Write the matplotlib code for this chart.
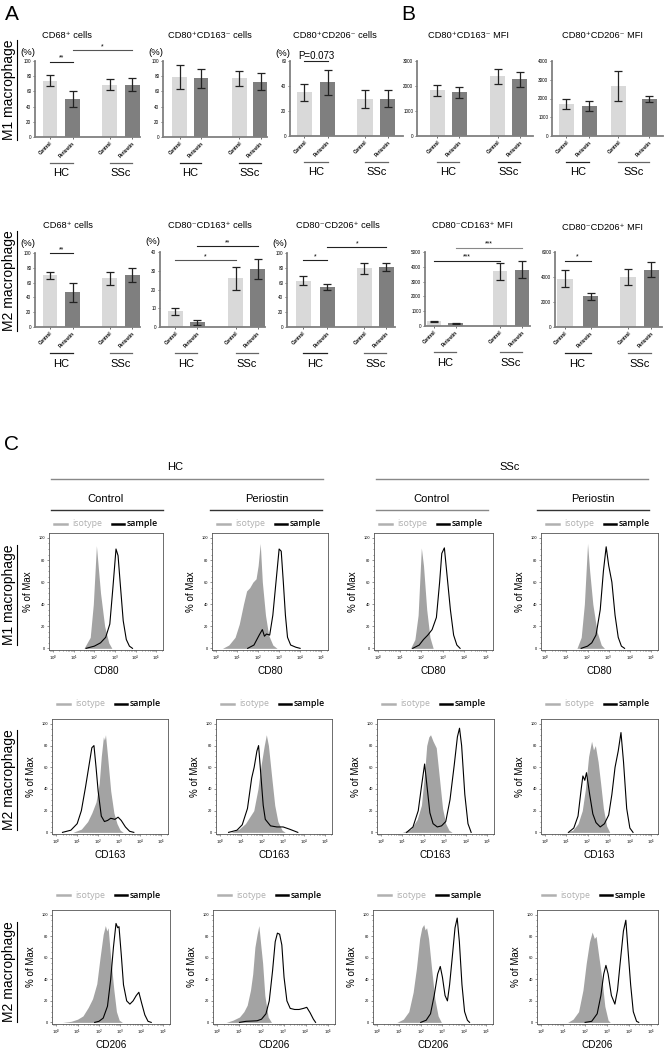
import numpy as np
import matplotlib
matplotlib.use("Agg")
import matplotlib.pyplot as plt
from matplotlib.lines import Line2D
from matplotlib.ticker import AutoMinorLocator, FixedLocator

plt.rcParams["font.family"] = ["Liberation Sans", "DejaVu Sans"]

W, H = 667, 1050

# ---------------------------------------------------------------- data
conditions = ["Control", "Periostin", "Control", "Periostin"]
groups = ["HC", "SSc"]

# A/B, M1 macrophage row: mean and error (HC ctrl, HC peri, SSc ctrl, SSc peri)
m1_cd68_mean = [74, 50, 69, 69]
m1_cd68_err = [7.5, 11, 7.5, 8.5]
m1_cd80cd163_mean = [79, 77, 77, 73]
m1_cd80cd163_err = [16, 13, 9.5, 11]
m1_cd80cd206_mean = [35, 43, 29.5, 30]
m1_cd80cd206_err = [7, 10, 7, 7]
m1_cd163_mfi_mean = [1830, 1750, 2400, 2270]
m1_cd163_mfi_err = [210, 210, 300, 300]
m1_cd206_mfi_mean = [1690, 1620, 2660, 1970]
m1_cd206_mfi_err = [275, 265, 800, 180]

# A/B, M2 macrophage row
m2_cd68_mean = [70, 47, 66, 70]
m2_cd68_err = [5, 13, 9, 9.5]
m2_cd80cd163_mean = [8.3, 2.5, 26, 31]
m2_cd80cd163_err = [1.8, 1.2, 6, 5.3]
m2_cd80cd206_mean = [62.5, 53.5, 79.5, 81.5]
m2_cd80cd206_err = [6, 4, 7.5, 5.5]
m2_cd163_mfi_mean = [320, 190, 3700, 3800]
m2_cd163_mfi_err = [50, 40, 560, 580]
m2_cd206_mfi_mean = [3870, 2450, 4000, 4590]
m2_cd206_mfi_err = [690, 310, 640, 590]

# C, histograms: (log10 intensity, % of Max)
iso_hc_ctrl_cd80 = [(1.5, 0), (1.8, 10), (1.95, 40), (2.1, 93), (2.3, 50), (2.5, 20), (2.7, 5), (2.85, 0)]
smp_hc_ctrl_cd80 = [(1.6, 0), (2.0, 2), (2.3, 5), (2.55, 10), (2.75, 22), (2.9, 55), (3.05, 90),
                    (3.15, 84), (3.25, 60), (3.4, 25), (3.55, 8), (3.7, 2), (3.85, 0)]
iso_hc_peri_cd80 = [(0.3, 0), (0.6, 3), (0.9, 10), (1.1, 22), (1.3, 40), (1.45, 52), (1.6, 55), (1.75, 60),
                    (1.9, 63), (2.0, 75), (2.1, 95), (2.2, 60), (2.35, 30), (2.5, 12), (2.7, 3), (2.9, 0)]
smp_hc_peri_cd80 = [(1.5, 0), (1.8, 3), (2.05, 12), (2.2, 17), (2.3, 11), (2.4, 13), (2.55, 12), (2.7, 30),
                    (2.85, 60), (3.0, 90), (3.1, 88), (3.2, 60), (3.3, 30), (3.4, 10), (3.55, 3), (3.8, 1), (4.0, 0)]
iso_ssc_ctrl_cd80 = [(1.5, 0), (1.7, 8), (1.85, 30), (2.0, 91), (2.1, 75), (2.25, 35), (2.4, 10), (2.55, 0)]
smp_ssc_ctrl_cd80 = [(1.6, 0), (1.9, 3), (2.1, 8), (2.3, 12), (2.5, 17), (2.7, 28), (2.85, 60), (2.95, 86),
                     (3.07, 91), (3.2, 65), (3.35, 35), (3.5, 12), (3.65, 3), (3.8, 0)]
iso_ssc_peri_cd80 = [(1.5, 0), (1.7, 10), (1.85, 40), (2.0, 95), (2.1, 70), (2.25, 40), (2.45, 15), (2.65, 3), (2.8, 0)]
smp_ssc_peri_cd80 = [(1.7, 0), (2.0, 2), (2.2, 5), (2.4, 12), (2.6, 35), (2.75, 70), (2.88, 92), (3.0, 75),
                     (3.15, 60), (3.3, 30), (3.45, 10), (3.6, 2), (3.75, 0)]

iso_hc_ctrl_cd163 = [(0.8, 0), (1.2, 3), (1.5, 10), (1.7, 18), (1.9, 28), (2.05, 45), (2.15, 70), (2.25, 88),
                     (2.3, 85), (2.35, 90), (2.45, 70), (2.6, 38), (2.75, 18), (2.9, 8), (3.05, 2), (3.2, 0)]
smp_hc_ctrl_cd163 = [(0.3, 0), (0.7, 2), (1.0, 8), (1.2, 20), (1.4, 42), (1.55, 60), (1.7, 78), (1.8, 80),
                     (1.9, 60), (2.0, 38), (2.15, 15), (2.3, 10), (2.45, 11), (2.6, 13), (2.8, 12), (2.95, 14),
                     (3.1, 11), (3.3, 5), (3.5, 1), (3.7, 0)]
iso_hc_peri_cd163 = [(0.5, 0), (0.9, 3), (1.2, 8), (1.4, 14), (1.6, 20), (1.8, 40), (1.95, 62), (2.1, 80),
                     (2.2, 90), (2.3, 80), (2.45, 52), (2.6, 25), (2.75, 10), (2.95, 2), (3.1, 0)]
smp_hc_peri_cd163 = [(0.4, 0), (0.8, 2), (1.05, 7), (1.3, 22), (1.5, 50), (1.62, 60), (1.75, 75), (1.83, 80),
                     (1.95, 50), (2.05, 25), (2.15, 12), (2.4, 6), (2.7, 5), (3.0, 5), (3.3, 3), (3.5, 1.5), (3.7, 0)]
iso_ssc_ctrl_cd163 = [(1.0, 0), (1.4, 3), (1.7, 12), (1.9, 25), (2.05, 55), (2.15, 80), (2.25, 88), (2.33, 90),
                      (2.45, 84), (2.6, 78), (2.75, 50), (2.9, 22), (3.05, 8), (3.2, 2), (3.35, 0)]
smp_ssc_ctrl_cd163 = [(1.2, 0), (1.5, 5), (1.75, 20), (1.9, 42), (2.05, 63), (2.15, 45), (2.3, 18), (2.45, 8),
                      (2.65, 5), (2.85, 6), (3.05, 10), (3.25, 30), (3.45, 62), (3.6, 88), (3.7, 96), (3.8, 80),
                      (3.95, 35), (4.1, 8), (4.25, 0)]
iso_ssc_peri_cd163 = [(1.0, 0), (1.3, 2), (1.55, 8), (1.75, 20), (1.9, 40), (2.05, 70), (2.19, 84), (2.28, 76),
                      (2.37, 80), (2.5, 65), (2.62, 45), (2.75, 22), (2.9, 6), (3.05, 0)]
smp_ssc_peri_cd163 = [(1.1, 0), (1.35, 4), (1.55, 15), (1.7, 40), (1.78, 52), (1.87, 48), (1.95, 55), (2.1, 35),
                      (2.25, 17), (2.4, 9), (2.6, 5), (2.8, 8), (3.0, 16), (3.15, 35), (3.3, 60), (3.45, 75),
                      (3.58, 92), (3.7, 65), (3.85, 22), (4.0, 4), (4.15, 0)]

iso_hc_ctrl_cd206 = [(0.3, 0), (0.7, 1), (1.0, 3), (1.25, 6), (1.5, 14), (1.7, 22), (1.9, 36), (2.05, 60),
                     (2.2, 82), (2.3, 90), (2.37, 85), (2.43, 88), (2.55, 60), (2.7, 30), (2.82, 10), (2.95, 2), (3.1, 0)]
smp_hc_ctrl_cd206 = [(1.8, 0), (2.0, 1), (2.2, 4), (2.4, 15), (2.55, 40), (2.68, 70), (2.8, 92), (2.88, 88),
                     (2.94, 89), (3.05, 62), (3.15, 35), (3.3, 20), (3.45, 17), (3.6, 20), (3.75, 25), (3.87, 28),
                     (4.0, 18), (4.15, 7), (4.3, 1), (4.45, 0)]
iso_hc_peri_cd206 = [(0.4, 0), (0.7, 2), (1.0, 5), (1.2, 10), (1.35, 16), (1.5, 30), (1.6, 45), (1.7, 70),
                     (1.8, 82), (1.88, 90), (1.95, 75), (2.05, 55), (2.15, 25), (2.3, 5), (2.45, 0)]
smp_hc_peri_cd206 = [(1.0, 0), (1.3, 1), (1.8, 1.5), (2.0, 3), (2.2, 8), (2.35, 20), (2.5, 48), (2.62, 75),
                     (2.72, 83), (2.82, 82), (2.92, 72), (3.02, 42), (3.15, 20), (3.3, 13), (3.5, 12), (3.7, 12),
                     (3.9, 13), (4.05, 14), (4.2, 9), (4.35, 3), (4.45, 0)]
iso_ssc_ctrl_cd206 = [(0.9, 0), (1.2, 3), (1.45, 10), (1.65, 28), (1.8, 50), (1.95, 78), (2.05, 88), (2.14, 91),
                      (2.2, 86), (2.27, 88), (2.36, 78), (2.5, 50), (2.65, 22), (2.8, 6), (2.95, 0)]
smp_ssc_ctrl_cd206 = [(2.0, 0), (2.25, 2), (2.45, 8), (2.62, 25), (2.78, 45), (2.9, 52), (3.0, 42), (3.12, 25),
                      (3.23, 20), (3.33, 35), (3.45, 60), (3.58, 88), (3.68, 97), (3.78, 75), (3.9, 35),
                      (4.02, 10), (4.15, 2), (4.25, 0)]
iso_ssc_peri_cd206 = [(1.2, 0), (1.45, 3), (1.7, 10), (1.9, 30), (2.05, 55), (2.2, 75), (2.32, 84), (2.42, 78),
                      (2.5, 80), (2.62, 62), (2.77, 40), (2.9, 15), (3.05, 2), (3.15, 0)]
smp_ssc_peri_cd206 = [(2.0, 0), (2.3, 1), (2.55, 8), (2.72, 25), (2.85, 45), (2.95, 53), (3.05, 45), (3.2, 25),
                      (3.36, 17), (3.48, 30), (3.6, 55), (3.75, 85), (3.86, 95), (3.95, 70), (4.08, 35),
                      (4.2, 10), (4.35, 1), (4.45, 0)]

hist_markers = ["CD80", "CD163", "CD206"]
hist_curves = [
    [(iso_hc_ctrl_cd80, smp_hc_ctrl_cd80), (iso_hc_peri_cd80, smp_hc_peri_cd80),
     (iso_ssc_ctrl_cd80, smp_ssc_ctrl_cd80), (iso_ssc_peri_cd80, smp_ssc_peri_cd80)],
    [(iso_hc_ctrl_cd163, smp_hc_ctrl_cd163), (iso_hc_peri_cd163, smp_hc_peri_cd163),
     (iso_ssc_ctrl_cd163, smp_ssc_ctrl_cd163), (iso_ssc_peri_cd163, smp_ssc_peri_cd163)],
    [(iso_hc_ctrl_cd206, smp_hc_ctrl_cd206), (iso_hc_peri_cd206, smp_hc_peri_cd206),
     (iso_ssc_ctrl_cd206, smp_ssc_ctrl_cd206), (iso_ssc_peri_cd206, smp_ssc_peri_cd206)],
]

# ---------------------------------------------------------------- helpers
LIGHT, DARK = "#d9d9d9", "#7f7f7f"
fig = plt.figure(figsize=(W / 100, H / 100), dpi=100)


def axes_px(x0, y0, x1, y1):
    return fig.add_axes([x0 / W, 1 - y1 / H, (x1 - x0) / W, (y1 - y0) / H])


def text_px(x, y, s, **kw):
    kw.setdefault("ha", "center")
    kw.setdefault("va", "center")
    return fig.text(x / W, 1 - y / H, s, **kw)


def hline_px(x0, x1, y, **kw):
    fig.add_artist(Line2D([x0 / W, x1 / W], [1 - y / H, 1 - y / H], **kw))


row_labels = []


def bar_panel(rect, title, title_xy, mean, err, ylim, ticks, pos, xlim, pct, sig, glines):
    x0, y0, x1, y1 = rect
    ax = axes_px(*rect)
    h = y1 - y0
    ax.bar(pos, mean, width=0.66, color=[LIGHT, DARK, LIGHT, DARK], yerr=err, capsize=3,
           error_kw=dict(elinewidth=0.9, capthick=0.9, ecolor="#222222"))
    ax.set_xlim(*xlim)
    ax.set_ylim(*ylim)
    ax.set_yticks(ticks)
    ax.set_xticks(pos)
    ax.set_xticklabels(conditions, rotation=45, ha="right", rotation_mode="anchor",
                       fontsize=3.6, fontweight="bold")
    for s in ["top", "right"]:
        ax.spines[s].set_visible(False)
    for s in ["left", "bottom"]:
        ax.spines[s].set_color("#808080")
        ax.spines[s].set_linewidth(1.3)
    ax.tick_params(labelsize=3.3, length=1.6, width=0.6, color="#555555", pad=1)
    ax.patch.set_visible(False)
    text_px(title_xy[0], title_xy[1], title, fontsize=6.7)
    if pct:
        ax.text(-7 / (x1 - x0), 1 + (10 if y0 > 200 else 8) / h, "(%)", transform=ax.transAxes,
                ha="center", va="center", fontsize=6.8)
    for i, j, y, lab, c in sig:
        ax.plot([pos[i], pos[j]], [y, y], color=c, lw=0.8, clip_on=False)
        ax.text((pos[i] + pos[j]) / 2, y, lab, ha="center", va="bottom",
                fontsize=7 if lab.startswith("P") else 5, clip_on=False)
    tr = ax.get_xaxis_transform()
    gl, gt, gcol = glines
    for k, g in enumerate(groups):
        ax.plot([pos[2 * k], pos[2 * k + 1]], [-gl / h] * 2, color=gcol[k], lw=0.9,
                transform=tr, clip_on=False)
        ax.text((pos[2 * k] + pos[2 * k + 1]) / 2, -gt / h, g, transform=tr,
                ha="center", va="center", fontsize=8)
    return ax


# ---------------------------------------------------------------- A / B
POS_STD = [0, 1, 2.65, 3.65]
top_gl = (26, 36)
bot_gl = (26, 37)

bar_panel((35, 61, 140, 137), "CD68⁺ cells", (67, 35), m1_cd68_mean, m1_cd68_err,
          (0, 100), range(0, 101, 20), POS_STD, (-0.67, 4.0), True,
          [(0, 1, 99, "**", "#222"), (1, 3, 114, "*", "#555")], (*top_gl, ["#666", "#666"]))
bar_panel((163, 61, 267, 137), "CD80⁺CD163⁻ cells", (210, 35), m1_cd80cd163_mean, m1_cd80cd163_err,
          (0, 100), range(0, 101, 20), [0, 1, 2.79, 3.77], (-0.77, 4.07), True,
          [], (*top_gl, ["#222", "#222"]))
bar_panel((290, 61, 403, 136), "CD80⁺CD206⁻ cells", (335, 35), m1_cd80cd206_mean, m1_cd80cd206_err,
          (0, 60), range(0, 61, 20), [0, 1, 2.63, 3.61], (-0.63, 4.28), True,
          [(0, 1, 60, "P=0.073", "#222")], (*top_gl, ["#666", "#666"]))
bar_panel((417, 61, 533, 136), "CD80⁺CD163⁻ MFI", (468, 35), m1_cd163_mfi_mean, m1_cd163_mfi_err,
          (0, 3000), range(0, 3001, 1000), [0, 1, 2.73, 3.73], (-0.93, 4.34), False,
          [], (*top_gl, ["#666", "#222"]))
bar_panel((552, 61, 663, 136), "CD80⁺CD206⁻ MFI", (602, 35), m1_cd206_mfi_mean, m1_cd206_mfi_err,
          (0, 4000), range(0, 4001, 1000), [0, 1, 2.26, 3.61], (-0.63, 4.2), False,
          [], (*top_gl, ["#222", "#666"]))

bar_panel((35, 253, 140, 327), "CD68⁺ cells", (68, 226), m2_cd68_mean, m2_cd68_err,
          (0, 100), range(0, 101, 20), POS_STD, (-0.67, 4.0), True,
          [(0, 1, 100, "**", "#222")], (*bot_gl, ["#222", "#666"]))
bar_panel((160, 252, 265, 327), "CD80⁻CD163⁺ cells", (210, 226), m2_cd80cd163_mean, m2_cd80cd163_err,
          (0, 40), range(0, 41, 10), [0, 1, 2.73, 3.73], (-0.7, 4.07), True,
          [(0, 2, 35.7, "*", "#555"), (1, 3, 43.2, "**", "#222")], (*bot_gl, ["#666", "#666"]))
bar_panel((287, 253, 395, 327), "CD80⁻CD206⁺ cells", (338, 226), m2_cd80cd206_mean, m2_cd80cd206_err,
          (0, 100), range(0, 101, 20), [0, 1.06, 2.67, 3.63], (-0.7, 4.0), True,
          [(0, 1, 90.5, "*", "#222"), (1, 3, 108, "*", "#222")], (*bot_gl, ["#222", "#666"]))
bar_panel((425, 252, 530, 326), "CD80⁻CD163⁺ MFI", (472, 226), m2_cd163_mfi_mean, m2_cd163_mfi_err,
          (0, 5000), range(0, 5001, 1000), [0, 1, 3.05, 4.07], (-0.42, 4.46), False,
          [(0, 2, 4400, "***", "#222"), (1, 3, 5300, "***", "#888")], (*bot_gl, ["#666", "#666"]))
bar_panel((555, 252, 662, 327), "CD80⁻CD206⁺ MFI", (602, 227), m2_cd206_mfi_mean, m2_cd206_mfi_err,
          (0, 6000), range(0, 6001, 2000), [0, 1.08, 2.66, 3.62], (-0.4, 4.06), False,
          [(0, 1, 5300, "*", "#222")], (*bot_gl, ["#222", "#666"]))

text_px(12, 14, "A", fontsize=15)
text_px(408, 14, "B", fontsize=15)
text_px(12, 445, "C", fontsize=15)

for y, lab in [(90, "M1 macrophage"), (281, "M2 macrophage"), (595, "M1 macrophage"),
               (780, "M2 macrophage"), (972, "M2 macrophage")]:
    row_labels.append(text_px(9, y, lab, rotation=90, fontsize=10))

# ---------------------------------------------------------------- C
col_titles = [("Control", 106), ("Periostin", 267), ("Control", 432), ("Periostin", 593)]
col_lines = [(51, 163, "#333"), (210, 322, "#333"), (376, 488, "#888"), (537, 649, "#333")]
text_px(175, 467, "HC", fontsize=8)
hline_px(51, 323, 479, color="#888888", lw=1)
text_px(510, 467, "SSc", fontsize=8)
hline_px(376, 648, 479, color="#888888", lw=1)
for (t, cx), (a, b, c) in zip(col_titles, col_lines):
    text_px(cx, 499, t, fontsize=8)
    hline_px(a, b, 510, color=c, lw=1)

hist_rows = [(533, 650, 524), (719, 834, 704), (910, 1024, 895)]
hist_cols = [[(49, 163), (212, 328), (374, 493), (541, 658)],
             [(52, 168), (216, 332), (377, 494), (541, 658)],
             [(52, 170), (213, 335), (373, 493), (537, 658)]]

for r, (top, bot, leg_y) in enumerate(hist_rows):
    for c, (left, right) in enumerate(hist_cols[r]):
        ax = axes_px(left, top, right, bot)
        iso, smp = hist_curves[r][c]
        ix, iy = zip(*iso)
        sx, sy = zip(*smp)
        ax.fill_between(10 ** np.array(ix), iy, color="#a3a3a3", lw=0)
        ax.plot(10 ** np.array(sx), sy, color="black", lw=0.8)
        ax.set_xscale("log")
        ax.set_xlim(10 ** -0.2, 10 ** 5.33)
        ax.set_ylim(-1.5, 104.5)
        ax.xaxis.set_major_locator(FixedLocator([10 ** k for k in range(6)]))
        ax.set_xticklabels([f"$10^{k}$" for k in range(6)])
        ax.set_yticks(range(0, 101, 20))
        ax.yaxis.set_minor_locator(AutoMinorLocator(4))
        ax.tick_params(which="both", labelsize=2.8, length=1.6, width=0.4, pad=1, color="#444")
        ax.tick_params(which="minor", length=0.9)
        for s in ax.spines.values():
            s.set_color("#555555")
            s.set_linewidth(0.6)
        h = bot - top
        ax.text(-21 / (right - left), 0.5, "% of Max", transform=ax.transAxes, rotation=90,
                ha="center", va="center", fontsize=7)
        ax.text(0.5, -21 / h, hist_markers[r], transform=ax.transAxes,
                ha="center", va="center", fontsize=7.2)
        # legend
        hline_px(left + 5, left + 18, leg_y, color="#b0b0b0", lw=1.8)
        text_px(left + 23, leg_y, "isotype", ha="left", fontsize=6.4, color="#b0b0b0",
                family=["Open Sans", "DejaVu Sans"])
        hline_px(left + 63, left + 75, leg_y, color="black", lw=1.8)
        text_px(left + 78, leg_y, "sample", ha="left", fontsize=6.4, color="black",
                fontweight="semibold", family=["Open Sans", "DejaVu Sans"])

# underline the rotated row labels (baseline is on the right side)
fig.canvas.draw()
renderer = fig.canvas.get_renderer()
for t in row_labels:
    bb = t.get_window_extent(renderer)
    fig.add_artist(Line2D([(bb.x1 + 0.5) / W] * 2, [bb.y0 / H, bb.y1 / H], color="black", lw=0.8))

fig.savefig("out.png", dpi=100)
